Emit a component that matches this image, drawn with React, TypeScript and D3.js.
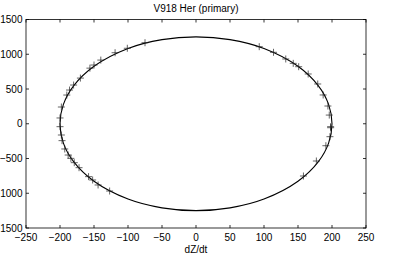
import React from "react";
import * as d3 from "d3";

// observed radial-velocity derivative points (dZ/dt, y)
const obsX = [
  -198, -200, -190, -186, -180, -170, -156, -150, -140, -119, -101, -75,
  93, 114, 132, 143, 151, 165, 179, 187, 194, 196, 198, 198,
  -200, -198, -197, -193, -188, -184, -179, -172, -158, -152, -144, -127,
  197, 191, 177, 158,
];
const obsY = [
  241, 83, 413, 485, 557, 657, 800, 845, 916, 1022, 1086, 1166,
  1109, 1028, 932, 869, 821, 716, 572, 414, 255, 125, -42, -57,
  -42, -162, -243, -363, -450, -498, -560, -632, -761, -809, -881, -968,
  -186, -316, -536, -752,
];

// fitted curve (closed loop)
const curveX = [0, 50, 100, 150, 180, 195, 200, 195, 180, 150, 100, 50, 0, -50, -100, -150, -180, -195, -200, -195, -180, -150, -100, -50];
const curveY = [1250, 1210, 1083, 827, 545, 278, 0, -278, -545, -827, -1083, -1210, -1250, -1210, -1083, -827, -545, -278, 0, 278, 545, 827, 1083, 1210];

const xTicks = [-250, -200, -150, -100, -50, 0, 50, 100, 150, 200, 250];
const yTicks = [-1500, -1000, -500, 0, 500, 1000, 1500];

const W = 406;
const H = 257;
const m = { left: 26, right: 366, top: 19.5, bottom: 228 };
const font = "'Liberation Sans', Arial, sans-serif";

export default function App() {
  const x = d3.scaleLinear().domain([-250, 250]).range([m.left, m.right]);
  const y = d3.scaleLinear().domain([-1500, 1500]).range([m.bottom, m.top]);

  const pts: [number, number][] = curveX.map((v, i) => [v, curveY[i]]);
  const path = d3
    .line<[number, number]>()
    .x((d) => x(d[0]))
    .y((d) => y(d[1]))
    .curve(d3.curveCatmullRomClosed.alpha(0.5))(pts);

  const tk = 3;
  const s = 3.5;

  return (
    <svg
      width={W}
      height={H}
      style={{ position: "absolute", left: 0, top: 0, background: "#fff" }}
      fontFamily={font}
      fontSize={10}
    >
      <rect x={0} y={0} width={W} height={H} fill="#fff" />
      <text x={(m.left + m.right) / 2} y={12} textAnchor="middle" fill="#000">
        V918 Her (primary)
      </text>
      <rect
        x={m.left}
        y={m.top}
        width={m.right - m.left}
        height={m.bottom - m.top}
        fill="none"
        stroke="#000"
        strokeWidth={0.8}
      />
      {xTicks.map((t) => (
        <g key={"x" + t}>
          <line x1={x(t)} x2={x(t)} y1={m.bottom} y2={m.bottom - tk} stroke="#000" strokeWidth={0.8} />
          <line x1={x(t)} x2={x(t)} y1={m.top} y2={m.top + tk} stroke="#000" strokeWidth={0.8} />
          <text x={x(t)} y={241} textAnchor="middle" fill="#000">
            {t < 0 ? "\u2212" + Math.abs(t) : t}
          </text>
        </g>
      ))}
      {yTicks.map((t) => (
        <g key={"y" + t}>
          <line x1={m.left} x2={m.left + tk} y1={y(t)} y2={y(t)} stroke="#000" strokeWidth={0.8} />
          <line x1={m.right} x2={m.right - tk} y1={y(t)} y2={y(t)} stroke="#000" strokeWidth={0.8} />
          <text x={22.5} y={y(t) + 3.5} textAnchor="end" fill="#000">
            {t < 0 ? "\u2212" + Math.abs(t) : t}
          </text>
        </g>
      ))}
      <text x={(m.left + m.right) / 2} y={253} textAnchor="middle" fill="#000">
        dZ/dt
      </text>
      <path d={path ?? ""} fill="none" stroke="#000" strokeWidth={1.1} />
      {obsX.map((v, i) => (
        <g key={"p" + i} stroke="#222" strokeWidth={0.7}>
          <line x1={x(v) - s} x2={x(v) + s} y1={y(obsY[i])} y2={y(obsY[i])} />
          <line x1={x(v)} x2={x(v)} y1={y(obsY[i]) - s} y2={y(obsY[i]) + s} />
        </g>
      ))}
    </svg>
  );
}
